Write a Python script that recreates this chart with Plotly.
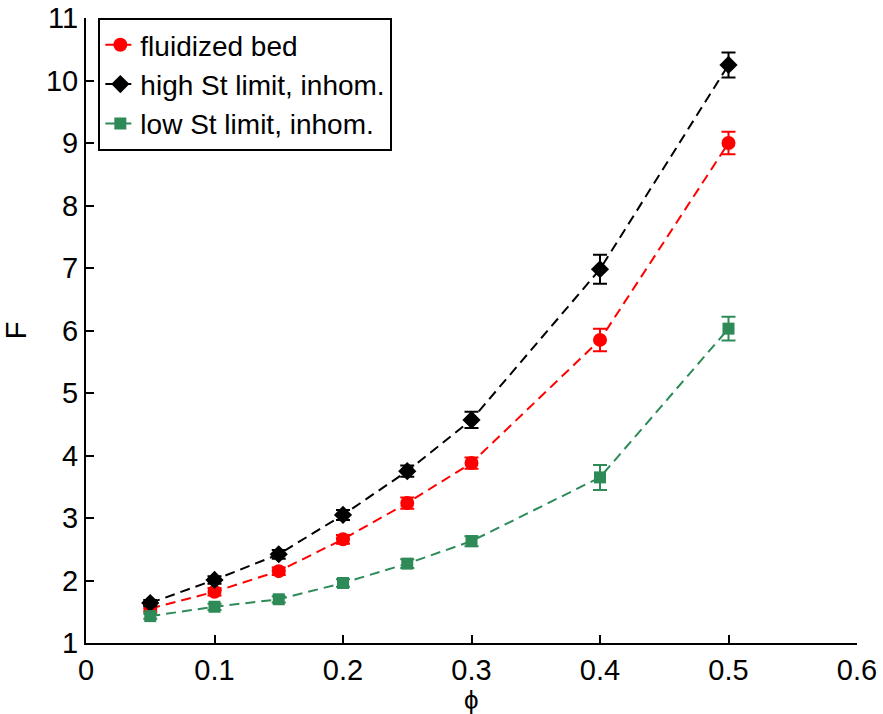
import plotly.graph_objects as go

phi = [0.05, 0.1, 0.15, 0.2, 0.25, 0.3, 0.4, 0.5]

fluidized = [1.55, 1.82, 2.15, 2.66, 3.24, 3.88, 5.85, 9.0]
fluidized_err = [0.05, 0.06, 0.06, 0.07, 0.09, 0.09, 0.18, 0.18]

high_st = [1.64, 2.01, 2.42, 3.05, 3.75, 4.57, 6.98, 10.25]
high_st_err = [0.05, 0.06, 0.07, 0.08, 0.09, 0.13, 0.23, 0.2]

low_st = [1.43, 1.58, 1.70, 1.96, 2.27, 2.63, 3.65, 6.03]
low_st_err = [0.04, 0.05, 0.05, 0.06, 0.07, 0.08, 0.2, 0.19]

series = [
    ("fluidized bed", fluidized, fluidized_err, "#ff0000", "circle", 14),
    ("high St limit, inhom.", high_st, high_st_err, "#000000", "diamond", 14),
    ("low St limit, inhom.", low_st, low_st_err, "#2e8b57", "square", 12),
]

FONT = "Liberation Sans, Arial, sans-serif"

fig = go.Figure()
for name, y, err, color, symbol, size in series:
    fig.add_trace(go.Scatter(
        x=phi, y=y, name=name, mode="lines+markers",
        line=dict(color=color, width=2, dash="10px,6px"),
        marker=dict(color=color, symbol=symbol, size=size),
        error_y=dict(type="data", array=err, visible=True,
                     color=color, thickness=2, width=7),
    ))

# x-axis label placed below the tick labels
fig.add_annotation(
    text="ϕ", xref="x", x=0.3, yref="paper", y=-0.091,
    xanchor="center", yanchor="middle", showarrow=False,
    font=dict(family=FONT, size=26, color="black"),
)

fig.update_layout(
    width=883, height=714,
    margin=dict(l=86, r=26, t=18, b=71),
    paper_bgcolor="white", plot_bgcolor="white",
    font=dict(family=FONT, size=29, color="black"),
    showlegend=True,
    legend=dict(
        x=0.016, y=1.0, xanchor="left", yanchor="top",
        bgcolor="white", bordercolor="black", borderwidth=2,
        font=dict(family=FONT, size=28, color="black"),
        itemwidth=30, tracegroupgap=0,
    ),
    xaxis=dict(
        range=[0, 0.6], tickvals=[0, 0.1, 0.2, 0.3, 0.4, 0.5, 0.6],
        ticktext=["0", "0.1", "0.2", "0.3", "0.4", "0.5", "0.6"],
        ticks="inside", ticklen=8, tickwidth=2, tickcolor="black",
        showline=True, linecolor="black", linewidth=2,
        showgrid=False, zeroline=False, automargin=False,
    ),
    yaxis=dict(
        range=[1, 11], tickvals=list(range(1, 12)),
        ticks="inside", ticklen=8, tickwidth=2, tickcolor="black",
        showline=True, linecolor="black", linewidth=2,
        showgrid=False, zeroline=False, automargin=False,
        title=dict(text="F", font=dict(size=29), standoff=12),
    ),
)

fig.write_html("out.html")
